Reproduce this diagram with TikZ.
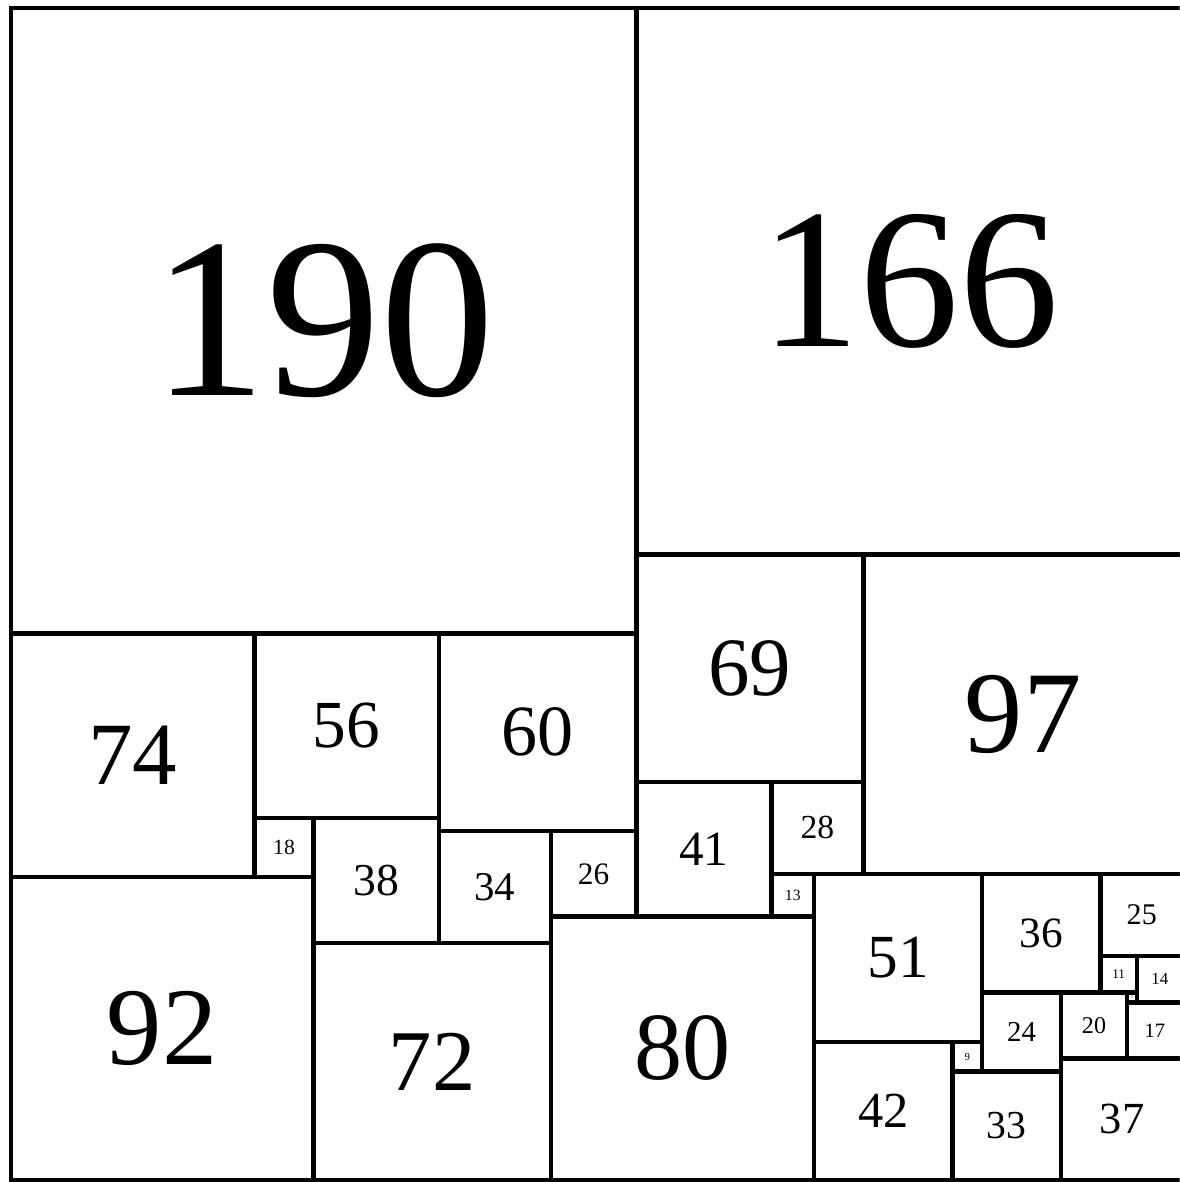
\documentclass[tikz,border=0pt]{standalone}
\usepackage{fontspec}
\setmainfont{Liberation Serif}
\tikzset{sqbox/.style={draw=black, line width=1.35pt, inner sep=0pt, anchor=north west}}
\newcommand\sqr[3]{%
  \pgfmathsetmacro\fsz{0.365*#3}%
  \node[sqbox, minimum size=#3pt, font=\fontsize{\fsz pt}{\fsz pt}\selectfont] (s#3) at (#1,#2) {#3};%
}
\begin{document}
\begin{tikzpicture}[x=1pt,y=-1pt]
\useasboundingbox (-2.6,-1.75) rectangle (355.7,357.25);
\fill[white] (-2.6,-1.75) rectangle (355.7,357.25);
\clip (-2.6,-1.75) rectangle (355.7,357.25);
\sqr{0}{0}{190}
\sqr{190}{0}{166}
\sqr{0}{190}{74}
\sqr{0}{264}{92}
\sqr{74}{190}{56}
\sqr{130}{190}{60}
\sqr{74}{246}{18}
\sqr{92}{246}{38}
\sqr{130}{250}{34}
\sqr{164}{250}{26}
\sqr{92}{284}{72}
\sqr{164}{276}{80}
\sqr{190}{166}{69}
\sqr{259}{166}{97}
\sqr{190}{235}{41}
\sqr{231}{235}{28}
\sqr{231}{263}{13}
\sqr{244}{263}{51}
\sqr{295}{263}{36}
\sqr{331}{263}{25}
\sqr{244}{314}{42}
\sqr{286}{314}{9}
\sqr{295}{299}{24}
\sqr{331}{288}{11}
\sqr{342}{288}{14}
\sqr{319}{299}{20}
\sqr{339}{299}{3}
\sqr{339}{302}{17}
\sqr{286}{323}{33}
\sqr{319}{319}{37}
\end{tikzpicture}
\end{document}
